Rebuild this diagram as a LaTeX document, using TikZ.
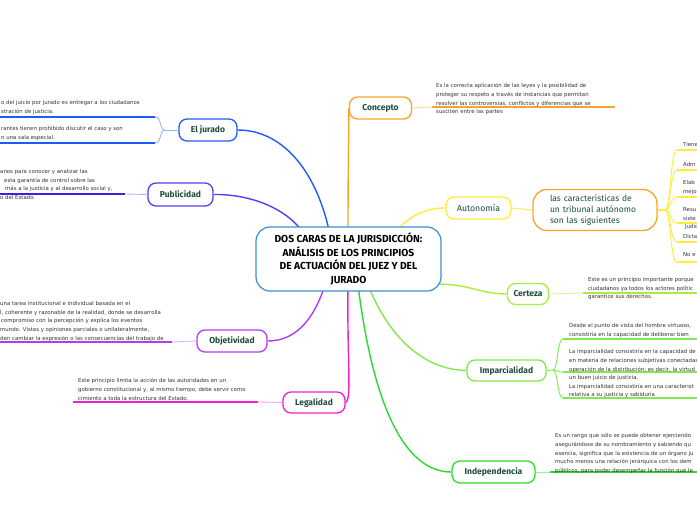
\documentclass[tikz,border=0pt]{standalone}
\usepackage{fontspec}
\setmainfont{DejaVu Sans}
\newfontfamily\labf{Fira Sans}
\usetikzlibrary{backgrounds}
\definecolor{cblue}{HTML}{3C8DD9}
\definecolor{jblue}{HTML}{1E5BFF}
\definecolor{pblue}{HTML}{5A3BF5}
\definecolor{pdark}{HTML}{3A1FE6}
\definecolor{opurp}{HTML}{B33CF0}
\definecolor{magen}{HTML}{F21FD2}
\definecolor{orng}{HTML}{F7A52A}
\definecolor{yell}{HTML}{FFEB3B}
\definecolor{limec}{HTML}{A9EE3A}
\definecolor{igreen}{HTML}{7DEB4C}
\definecolor{dgreen}{HTML}{2BD92B}
\definecolor{labgreen}{HTML}{1E4D3B}
\definecolor{notegray}{HTML}{333333}
\begin{document}
\begin{tikzpicture}[x=1pt,y=-1pt,
  lbl/.style={draw,fill=white,rounded corners=8pt,line width=1.3pt,inner sep=0pt,font=\labf\bfseries\fontsize{8.5}{10}\selectfont,text=labgreen},
  note/.style={anchor=north west,inner sep=0pt,align=left,font=\fontsize{5.4}{8.6}\selectfont,text=notegray},
  conn/.style={line width=1.4pt},
  ul/.style={line width=1.7pt},
  fork/.style={line width=0.9pt}]
\useasboundingbox (0,0) rectangle (697,520);
\clip (0,0) rectangle (697,520);

% main node
\node[draw=cblue,fill=white,rounded corners=14pt,line width=1.2pt,minimum width=185pt,minimum height=64pt,align=center,inner sep=0pt,font=\labf\bfseries\fontsize{10.2}{13.5}\selectfont] (main) at (348.5,259) {DOS CARAS DE LA JURISDICCIÓN:\\ANÁLISIS DE LOS PRINCIPIOS\\DE ACTUACIÓN DEL JUEZ Y DEL\\JURADO};

% branch nodes
\node[lbl,draw=orng,minimum width=62pt,minimum height=22pt] (conc) at (380.5,108) {Concepto};
\node[lbl,draw=jblue,minimum width=58pt,minimum height=22pt] (jur) at (208,130) {El jurado};
\node[lbl,draw=pblue,minimum width=65pt,minimum height=23pt] (pub) at (180.5,194.5) {Publicidad};
\node[lbl,draw=opurp,minimum width=70pt,minimum height=22pt] (obj) at (232,341) {Objetividad};
\node[lbl,draw=magen,minimum width=62pt,minimum height=21pt] (leg) at (314,402.5) {Legalidad};
\node[lbl,draw=yell,minimum width=65pt,minimum height=22pt,font=\labf\fontsize{8.7}{10}\selectfont] (aut) at (478.5,208) {Autonomía};
\node[draw=orng,fill=white,rounded corners=14pt,line width=1.3pt,minimum width=124pt,minimum height=41pt,inner sep=0pt,text width=90pt,align=left,text=labgreen,font=\labf\fontsize{8.5}{11}\selectfont] (car) at (595,210) {las características de\\un tribunal autónomo\\son las siguientes};
\node[lbl,draw=limec,minimum width=41pt,minimum height=21pt] (cer) at (528,294) {Certeza};
\node[lbl,draw=igreen,minimum width=79pt,minimum height=21pt] (imp) at (506.5,370.5) {Imparcialidad};
\node[lbl,draw=dgreen,minimum width=83pt,minimum height=22pt] (ind) at (493.5,472) {Independencia};

% notes
\node[note] (tconc) at (436,83.4) {Es la correcta aplicación de las leyes y la posibilidad de\\proteger su respeto a través de instancias que permitan\\resolver las controversias, conflictos y diferencias que se\\susciten entre las partes};
\node[note] (tjur1) at (1,100.4) {o del juicio por jurado es entregar a los ciudadanos\\stración de justicia.};
\node[note] (tjur2) at (1,126.4) {rantes tienen prohibido discutir el caso y son\\n una sala especial.};
\node[note] (tpub) at (0,169.4) {anos para conocer y analizar las\\\hspace*{4pt}esta garantía de control sobre las\\\hspace*{5pt}más a la justicia y al desarrollo social y,\\o del Estado.};
\node[note] (tobj) at (0,301.4) {una tarea institucional e individual basada en el\\l, coherente y razonable de la realidad, donde se desarrolla\\\hspace*{1pt}compromiso con la percepción y explica los eventos\\mundo. Vistas y opiniones parciales o unilateralmente,\\den cambiar la expresión o las consecuencias del trabajo de};
\node[note] (tleg) at (78,378.4) {Este principio limita la acción de las autoridades en un\\gobierno constitucional y, al mismo tiempo, debe servir como\\cimiento a toda la estructura del Estado.};
\node[note] (tcer) at (588,277.4) {Este es un principio importante porque\\ciudadanos ya todos los actores politic\\garantice sus derechos.};
\node[note] (timp1) at (569,323.4) {Desde el punto de vista del hombre virtuoso,\\consistiría en la capacidad de deliberar bien};
\node[note] (timp2) at (569,349.4) {La imparcialidad consistiría en la capacidad de\\en materia de relaciones subjetivas conectadas\\operación de la distribución; es decir, la virtud\\un buen juicio de justicia.\\La imparcialidad consistiría en una caracterist\\relativa a su justicia y sabiduría};
\node[note] (tind) at (555,433.4) {Es un rango que sólo se puede obtener ejerciendo\\asegurándose de su nombramiento y sabiendo qu\\esencia, significa que la existencia de un órgano ju\\mucho menos una relación jerárquica con los dem\\públicos, para poder desempeñar la función que le};
\node[note] (ta1) at (683,142.4) {Tiene};
\node[note] (ta2) at (683,162.4) {Adm};
\node[note] (ta3) at (683,180.4) {Elab\\mejo};
\node[note] (ta4) at (683,207.4) {Resu\\siste\\\hspace*{2pt}Judic};
\node[note] (ta5) at (683,234.4) {Dicta};
\node[note] (ta6) at (683,252.4) {No e};

% coordinates
\coordinate (mJ) at (330,235);
\coordinate (mP) at (305,235);
\coordinate (mC) at (348,235);
\coordinate (mA) at (392,235);
\coordinate (mCe) at (436,284);
\coordinate (mI) at (368,285);
\coordinate (mIn) at (358,285);
\coordinate (mL) at (348,285);
\coordinate (mO) at (325,285);

\coordinate (jf) at (165,130);
\coordinate (j1) at (155,117);
\coordinate (j1e) at (0,117);
\coordinate (j2) at (155,143);
\coordinate (j2e) at (0,143);
\coordinate (pf) at (125,194);
\coordinate (pe) at (0,194);
\coordinate (of) at (172,342);
\coordinate (oe) at (0,342);
\coordinate (lf) at (258,402);
\coordinate (le) at (73,402);
\coordinate (cf) at (432,107);
\coordinate (ce) at (615,107);
\coordinate (cef) at (583,293);
\coordinate (cee) at (697,293);
\coordinate (inf) at (550,472);
\coordinate (ine) at (697,472);
\coordinate (imf) at (553,370);
\coordinate (af) at (665,210);

\begin{scope}[on background layer]
% main connectors
\draw[conn,jblue] (mJ) .. controls (318,175) and (285,130) .. (jur.east);
\draw[conn,pblue] (mP) .. controls (285,205) and (245,194) .. (pub.east);
\draw[conn,orng] (mC) .. controls (348,160) and (349,118) .. (conc.west);
\draw[conn,yell] (mA) .. controls (410,215) and (425,208) .. (aut.west);
\draw[conn,limec] (mCe) .. controls (470,284) and (480,294) .. (cer.west);
\draw[conn,igreen] (mI) .. controls (392,345) and (430,370) .. (imp.west);
\draw[conn,dgreen] (mIn) .. controls (375,420) and (410,472) .. (ind.west);
\draw[conn,magen] (mL) .. controls (347,360) and (352,400) .. (leg.east);
\draw[conn,opurp] (mO) .. controls (312,325) and (292,341) .. (obj.east);

% jurado
\draw[fork,jblue!45] (jur.west) -- (jf);
\draw[fork,jblue!45] (jf) .. controls (159,130) and (162,117) .. (j1);
\draw[fork,jblue!45] (jf) .. controls (159,130) and (162,143) .. (j2);
\draw[ul,jblue] (j1) -- (j1e);
\draw[ul,jblue] (j2) -- (j2e);
% publicidad
\draw[fork,pblue!40] (pub.west) -- (pf);
\draw[ul,pdark] (pf) -- (pe);
% objetividad
\draw[fork,opurp!40] (obj.west) -- (of);
\draw[ul,opurp] (of) -- (oe);
% legalidad
\draw[fork,magen!40] (leg.west) -- (lf);
\draw[ul,magen] (lf) -- (le);
% concepto
\draw[fork,orng!45] (conc.east) -- (cf);
\draw[ul,orng] (cf) -- (ce);
% certeza
\draw[fork,limec!50] (cer.east) -- (cef);
\draw[ul,limec] (cef) -- (cee);
% independencia
\draw[fork,dgreen!45] (ind.east) -- (inf);
\draw[ul,dgreen] (inf) -- (ine);
% imparcialidad
\draw[fork,igreen] (imp.east) -- (imf);
\foreach \yy in {339,372,398}{
  \draw[fork,igreen] (imf) .. controls (558,370) and (557,\yy) .. (563,\yy);
  \draw[ul,igreen] (563,\yy) -- (697,\yy);
}
% autonomia
\draw[fork,yell] (aut.east) -- (car.west);
\draw[ul,yell] (car.east) -- (af);
\foreach \yy in {150,170,197,223,242,262}{
  \draw[fork,yell] (af) .. controls (671,210) and (670,\yy) .. (677,\yy);
  \draw[ul,yell] (677,\yy) -- (697,\yy);
}
\end{scope}
\end{tikzpicture}
\end{document}
